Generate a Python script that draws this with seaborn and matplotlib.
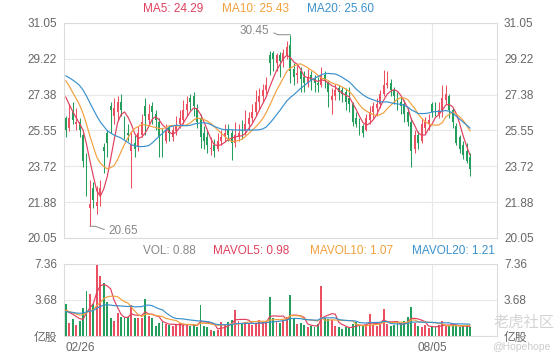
import numpy as np
import pandas as pd
import matplotlib
matplotlib.use("Agg")
import matplotlib.pyplot as plt
import seaborn as sns

sns.set_style("white")
plt.rcParams['font.family'] = ['Liberation Sans', 'Noto Sans CJK SC', 'DejaVu Sans']

## data ##
# closes of the 19 sessions before 02/26 (only used to warm up the moving averages)
pre_close = [28.2, 28.4, 28.5, 28.7, 28.6, 28.8, 28.9, 28.7, 28.6, 28.6,
             29.0, 29.3, 29.1, 28.8, 28.45, 28.1, 27.9, 27.6, 27.15]
pre_vol = [2.2, 2.3, 2.4, 2.1, 2.5, 2.2, 2.6, 2.3, 2.4, 2.5,
           2.6, 2.8, 2.5, 2.7, 2.4, 2.6, 2.5, 2.3, 2.6]

open_ = [26.2, 25.7, 26.5, 25.9, 26.0, 25.3, 23.8, 21.6, 22.6, 21.7,
         22.3, 24.7, 25.4, 26.8, 26.3, 26.5, 27.0, 26.2, 25.4, 24.5,
         24.9, 24.7, 25.3, 26.8, 26.1, 26.8, 26.4, 26.0, 25.4, 25.0,
         25.7, 25.2, 25.5, 25.9, 26.1, 26.6, 27.2, 27.3, 26.7, 26.2,
         25.4, 25.2, 24.6, 24.8, 24.6, 25.0, 25.2, 25.6, 25.4, 24.9,
         25.2, 25.6, 25.5, 25.9, 26.2, 26.5, 27.0, 27.3, 27.6, 29.4,
         29.5, 29.0, 29.4, 29.1, 29.4, 29.9, 28.7, 28.4, 28.6, 28.3,
         28.0, 28.4, 28.2, 28.0, 27.9, 28.4, 28.0, 27.1, 27.3, 27.7,
         27.6, 27.5, 27.2, 26.9, 26.2, 26.0, 25.8, 25.6, 26.1, 26.5,
         26.7, 26.9, 27.4, 27.9, 28.0, 27.6, 27.4, 27.0, 26.9, 26.5,
         26.0, 24.6, 25.3, 25.0, 25.7, 25.9, 26.9, 26.8, 26.4, 26.5,
         27.1, 27.3, 26.6, 25.8, 25.2, 24.8, 24.5, 24.2]
high = [26.3, 26.9, 27.0, 26.7, 26.2, 25.4, 24.4, 23.0, 22.9, 22.7,
        23.0, 24.9, 25.6, 27.0, 27.2, 27.3, 27.4, 26.3, 25.9, 25.5,
        25.3, 25.8, 26.4, 27.2, 26.9, 27.0, 26.6, 26.2, 25.7, 25.9,
        25.8, 25.8, 26.3, 26.6, 27.1, 27.3, 27.4, 27.5, 26.9, 26.4,
        25.8, 25.6, 25.2, 25.1, 25.4, 25.6, 25.9, 25.9, 25.6, 26.0,
        25.9, 26.1, 26.6, 26.5, 26.9, 27.6, 27.7, 27.95, 28.3, 29.6,
        29.6, 29.5, 29.55, 29.7, 30.15, 30.45, 29.0, 28.9, 28.8, 28.6,
        28.7, 28.6, 28.4, 28.3, 28.8, 28.6, 28.1, 27.7, 27.95, 27.9,
        27.8, 27.7, 27.8, 27.0, 26.5, 26.2, 25.9, 26.4, 26.8, 27.0,
        27.2, 27.6, 28.65, 28.6, 28.2, 27.8, 27.5, 27.3, 27.1, 26.7,
        26.2, 25.6, 25.5, 26.2, 26.25, 26.4, 27.0, 27.0, 27.0, 27.9,
        27.9, 27.4, 26.7, 25.95, 25.3, 25.0, 24.9, 24.4]
low = [25.2, 25.5, 25.9, 25.6, 25.2, 23.7, 22.2, 20.65, 21.6, 21.3,
       21.7, 23.4, 24.2, 25.4, 25.9, 26.1, 26.3, 25.1, 25.0, 22.6,
       24.2, 24.5, 25.2, 25.3, 25.9, 25.9, 25.6, 24.2, 24.2, 24.9,
       25.0, 25.0, 25.3, 25.7, 25.9, 26.3, 26.6, 26.3, 25.7, 24.65,
       24.6, 24.4, 24.3, 24.2, 24.5, 24.8, 25.0, 25.0, 24.05, 24.7,
       25.0, 25.1, 25.3, 25.6, 26.0, 26.3, 26.6, 27.0, 27.4, 28.4,
       28.6, 28.6, 28.3, 28.8, 29.2, 28.0, 27.9, 28.0, 27.5, 27.5,
       27.8, 27.6, 27.5, 27.5, 27.8, 27.7, 26.75, 26.4, 27.1, 27.1,
       27.0, 26.6, 26.5, 25.8, 25.75, 25.3, 25.2, 25.5, 25.9, 26.2,
       26.3, 26.7, 27.3, 27.7, 27.3, 26.9, 26.6, 26.4, 26.0, 25.8,
       23.7, 24.4, 24.6, 24.9, 25.4, 25.6, 26.25, 26.3, 26.2, 26.25,
       26.9, 26.2, 25.7, 24.8, 24.4, 24.1, 23.9, 23.2]
close = [25.6, 26.2, 26.1, 26.0, 25.6, 24.0, 22.6, 21.8, 22.0, 21.9,
         22.6, 24.5, 24.9, 26.6, 26.7, 27.0, 26.6, 25.6, 25.3, 24.8,
         24.6, 25.4, 26.0, 26.3, 26.4, 26.5, 26.1, 25.2, 25.0, 25.6,
         25.4, 25.6, 25.8, 26.2, 26.6, 26.9, 27.0, 26.8, 26.0, 25.2,
         25.0, 24.8, 24.6, 24.5, 25.0, 25.2, 25.4, 25.3, 24.9, 25.3,
         25.4, 25.5, 25.9, 26.2, 26.5, 27.0, 27.3, 27.6, 27.9, 29.0,
         29.2, 29.4, 29.1, 29.5, 29.8, 28.6, 28.3, 28.5, 28.2, 28.0,
         28.3, 28.1, 28.0, 27.9, 28.4, 28.1, 27.5, 27.3, 27.6, 27.5,
         27.4, 27.0, 26.9, 26.0, 25.9, 25.6, 25.4, 26.2, 26.5, 26.8,
         26.9, 27.4, 27.9, 28.0, 27.6, 27.3, 27.0, 26.8, 26.4, 26.0,
         24.5, 25.3, 24.9, 25.9, 26.0, 26.1, 26.5, 26.6, 26.6, 27.2,
         27.4, 26.6, 26.0, 24.9, 24.6, 24.3, 24.0, 23.6]
volume = [3.3, 1.3, 1.7, 1.1, 1.5, 2.9, 4.6, 4.3, 3.3, 7.3,
          6.1, 5.4, 3.5, 1.8, 1.5, 2.4, 1.9, 1.9, 1.9, 3.2,
          1.8, 1.8, 1.8, 3.8, 2.0, 1.8, 1.0, 1.3, 1.4, 1.2,
          1.1, 1.0, 1.2, 1.3, 1.1, 1.2, 1.0, 1.1, 0.9, 3.2,
          1.0, 0.9, 0.6, 0.5, 0.6, 1.4, 1.2, 1.4, 1.6, 2.7,
          1.5, 1.3, 1.4, 1.2, 1.1, 1.3, 1.6, 1.4, 1.5, 4.0,
          1.8, 1.5, 1.3, 1.6, 1.9, 4.2, 1.7, 1.2, 1.3, 1.1,
          0.9, 1.0, 0.9, 1.2, 5.1, 1.8, 1.7, 1.6, 1.0, 0.9,
          0.7, 0.9, 0.8, 1.2, 1.4, 1.1, 1.0, 1.1, 2.2, 1.1,
          1.0, 1.2, 2.8, 1.2, 1.0, 1.1, 1.3, 1.3, 1.5, 1.9,
          3.0, 1.3, 1.0, 0.9, 1.1, 0.8, 1.0, 0.9, 1.1, 1.5,
          1.1, 1.0, 1.1, 1.0, 0.9, 1.1, 1.0, 0.88]

tick_idx = [0, 106]
tick_labels = ['02/26', '08/05']
price_ticks = [20.05, 21.88, 23.72, 25.55, 27.38, 29.22, 31.05]
vol_ticks = [0, 3.68, 7.36]
vol_tick_labels = ['亿股', '3.68', '7.36']
ma_last = [24.29, 25.43, 25.60]
vol_last = [0.88, 0.98, 1.07, 1.21]

## derived ##
n_pre = len(pre_close)
idx = np.arange(len(close))
o = np.array(open_); h = np.array(high); l = np.array(low); c = np.array(close)
all_close = pd.Series(pre_close + close)
all_vol = pd.Series(pre_vol + volume)
ma = {k: all_close.rolling(k).mean().iloc[n_pre:].values for k in (5, 10, 20)}
mavol = {k: all_vol.rolling(k).mean().iloc[n_pre:].values for k in (5, 10, 20)}

RED = '#ea4f62'
GREEN = '#239e5c'
C5, C10, C20 = '#e0405e', '#f2a03d', '#3a90cc'
GRID = '#e8e8e8'
TXT = '#666666'

up = c >= o
cols = np.where(up, RED, GREEN)

fig = plt.figure(figsize=(5.6, 3.6), dpi=100)
W, H = 560, 360
ax = fig.add_axes([64 / W, 1 - 238 / H, 433 / W, 215 / H])
axv = fig.add_axes([64 / W, 1 - 336 / H, 433 / W, 72 / H])

# candles
ax.vlines(idx, l, h, colors=cols, lw=0.75, zorder=3)
ax.bar(idx, np.maximum(np.abs(c - o), 0.04), bottom=np.minimum(o, c),
       width=0.55, color=cols, linewidth=0, zorder=3)
for k, col in zip((5, 10, 20), (C5, C10, C20)):
    sns.lineplot(x=idx, y=ma[k], ax=ax, color=col, lw=0.85, zorder=4)

# volume
axv.bar(idx, volume, width=0.55, color=cols, linewidth=0, zorder=3)
for k, col in zip((5, 10, 20), (C5, C10, C20)):
    sns.lineplot(x=idx, y=mavol[k], ax=axv, color=col, lw=0.85, zorder=4)

xmin, xmax = -0.5, 124.8
for a in (ax, axv):
    a.set_xlim(xmin, xmax)
    a.axvline(tick_idx[1], color=GRID, lw=0.8, zorder=0)
    a.yaxis.grid(True, color=GRID, lw=0.8, zorder=0)
    a.xaxis.grid(False)
    a.set_xlabel('')
    a.set_ylabel('')
    for s in a.spines.values():
        s.set_color('#dcdcdc')
        s.set_linewidth(0.8)
    a.tick_params(axis='y', length=0, labelsize=8.5, labelcolor=TXT,
                  labelleft=True, labelright=True, pad=5)

ax.set_ylim(price_ticks[0], price_ticks[-1])
ax.set_yticks(price_ticks)
ax.set_yticklabels([f'{t:.2f}' for t in price_ticks])
ax.set_xticks([])

axv.set_ylim(vol_ticks[0], vol_ticks[-1])
axv.set_yticks(vol_ticks)
axv.set_yticklabels(vol_tick_labels)
axv.set_xticks(tick_idx)
axv.set_xticklabels(tick_labels)
axv.tick_params(axis='x', length=0, labelsize=8.5, labelcolor=TXT, pad=4)
axv.get_xticklabels()[0].set_ha('left')
axv.get_xticklabels()[0].set_x(xmin)

# high / low markers
hi = int(np.argmax(h)); lo = int(np.argmin(l))
ax.annotate(f'{h[hi]:.2f}', xy=(hi, h[hi]), xytext=(-21, 4), textcoords='offset pixels',
            ha='right', va='center', fontsize=8.5, color='#888888',
            arrowprops=dict(arrowstyle='-', color='#8a8a8a', lw=0.7, relpos=(1, 0.5),
                            shrinkA=1, shrinkB=0,
                            connectionstyle='angle,angleA=-25,angleB=0,rad=0'))
ax.annotate(f'{l[lo]:.2f}', xy=(lo, l[lo]), xytext=(19, -5), textcoords='offset pixels',
            ha='left', va='center', fontsize=8.5, color='#888888',
            arrowprops=dict(arrowstyle='-', color='#8a8a8a', lw=0.7, relpos=(0, 0.5),
                            shrinkA=1, shrinkB=0,
                            connectionstyle='angle,angleA=-20,angleB=0,rad=0'))

# indicator captions
for x, s, col in zip((143, 222, 307),
                     [f'MA5: {ma_last[0]:.2f}', f'MA10: {ma_last[1]:.2f}', f'MA20: {ma_last[2]:.2f}'],
                     (C5, C10, C20)):
    fig.text(x / W, 1 - 9 / H, s, color=col, fontsize=8.5, va='center')
for x, s, col in zip((143, 213, 310, 412),
                     [f'VOL: {vol_last[0]:.2f}', f'MAVOL5: {vol_last[1]:.2f}',
                      f'MAVOL10: {vol_last[2]:.2f}', f'MAVOL20: {vol_last[3]:.2f}'],
                     ('#888888', C5, C10, C20)):
    fig.text(x / W, 1 - 251 / H, s, color=col, fontsize=8.5, va='center')

# watermark
fig.text(493 / W, 1 - 323 / H, '老虎社区', color='#d4d4d4', fontsize=11, va='center')
fig.text(492 / W, 1 - 347 / H, '@Hopehope', color='#cccccc', fontsize=7.5, va='center')

fig.savefig('out.png', dpi=100)
